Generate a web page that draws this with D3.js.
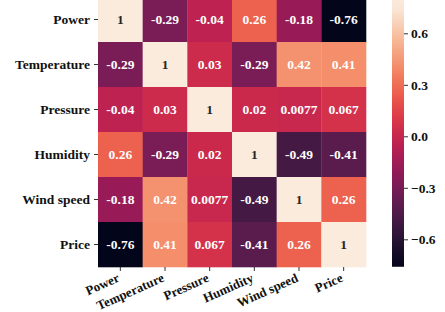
<!DOCTYPE html>
<html>
<head>
<meta charset="utf-8">
<script src="https://cdn.jsdelivr.net/npm/d3@7"></script>
<style>
  body { margin: 0; background: #fff; }
  text { font-family: "Liberation Serif", "Times New Roman", serif; font-weight: bold; }
</style>
</head>
<body>
<div id="svgDiv"></div>
<script>
// variables shown on both axes
var labels = ["Power", "Temperature", "Pressure", "Humidity", "Wind speed", "Price"];

// correlation matrix, one row per variable
var rowPower       = [1, -0.29, -0.04, 0.26, -0.18, -0.76];
var rowTemperature = [-0.29, 1, 0.03, -0.29, 0.42, 0.41];
var rowPressure    = [-0.04, 0.03, 1, 0.02, 0.0077, 0.067];
var rowHumidity    = [0.26, -0.29, 0.02, 1, -0.49, -0.41];
var rowWindSpeed   = [-0.18, 0.42, 0.0077, -0.49, 1, 0.26];
var rowPrice       = [-0.76, 0.41, 0.067, -0.41, 0.26, 1];
var matrix = [rowPower, rowTemperature, rowPressure, rowHumidity, rowWindSpeed, rowPrice];

// colorbar ticks
var barTicks = [0.6, 0.3, 0.0, -0.3, -0.6];

// rocket-like colormap stops
var rocket = ["#03051a", "#35193e", "#701f57", "#ad1759", "#e13342", "#f37651", "#f6b48f", "#faebdd"];

var svgWidth = 445, svgHeight = 312;
var svg = d3.select("#svgDiv")
    .append("svg")
    .attr("width", svgWidth)
    .attr("height", svgHeight);

var xScale = d3.scaleBand().domain(labels).range([98, 366]);
var yScale = d3.scaleBand().domain(labels).range([-3, 267]);

var interp = d3.interpolateRgbBasis(rocket);
var colorScale = d3.scaleLinear().domain([-0.76, 0.76]).range([0, 1]).clamp(true);
function cellColor(v) { return interp(colorScale(v)); }

var annFormat = d3.formatLocale({decimal: ".", thousands: ",", grouping: [3], currency: ["", ""], minus: "-"}).format(".2~g");

function lum(c) {
    var rgb = d3.rgb(c);
    var f = function(x){ x = x / 255; return x <= 0.03928 ? x / 12.92 : Math.pow((x + 0.055) / 1.055, 2.4); };
    return 0.2126 * f(rgb.r) + 0.7152 * f(rgb.g) + 0.0722 * f(rgb.b);
}

var cells = [];
matrix.forEach(function(row, i){
    row.forEach(function(v, j){
        cells.push({row: labels[i], col: labels[j], value: v});
    });
});

var g = svg.append("g");
g.selectAll("rect.cell")
    .data(cells)
    .enter().append("rect")
    .attr("class", "cell")
    .attr("x", d => xScale(d.col))
    .attr("y", d => yScale(d.row))
    .attr("width", xScale.bandwidth() + 0.3)
    .attr("height", yScale.bandwidth() + 0.3)
    .attr("fill", d => cellColor(d.value));

g.selectAll("text.ann")
    .data(cells)
    .enter().append("text")
    .attr("class", "ann")
    .attr("x", d => xScale(d.col) + xScale.bandwidth() / 2)
    .attr("y", d => yScale(d.row) + yScale.bandwidth() / 2)
    .attr("dy", "0.35em")
    .attr("text-anchor", "middle")
    .attr("font-size", 13.5)
    .attr("fill", d => lum(cellColor(d.value)) > 0.408 ? "#262626" : "#ffffff")
    .text(d => annFormat(d.value));

// y axis
var yAxis = svg.append("g")
    .attr("transform", "translate(98,0)")
    .call(d3.axisLeft(yScale).tickSize(4).tickPadding(4));
yAxis.select(".domain").remove();
yAxis.selectAll("line").attr("stroke", "#333");
yAxis.selectAll("text")
    .attr("font-size", 13.5)
    .attr("fill", "#111")
    .style("font-family", "'Liberation Serif', serif")
    .style("font-weight", "bold");

// x axis with rotated labels
var xAxis = svg.append("g")
    .attr("transform", "translate(0,267)")
    .call(d3.axisBottom(xScale).tickSize(4).tickPadding(4));
xAxis.select(".domain").remove();
xAxis.selectAll("line").attr("stroke", "#333");
xAxis.selectAll("text")
    .attr("font-size", 13)
    .attr("fill", "#111")
    .style("font-family", "'Liberation Serif', serif")
    .style("font-weight", "bold")
    .attr("text-anchor", "end")
    .attr("dy", null)
    .attr("y", 0)
    .attr("transform", "translate(0,14) rotate(-24)");

// colorbar
var barX = 392, barW = 12;
var barScale = d3.scaleLinear().domain([-0.6, 0.6]).range([239.3, 33.3]);
var barTop = -3, barBottom = barScale(-0.76);

var defs = svg.append("defs");
var grad = defs.append("linearGradient")
    .attr("id", "barGrad")
    .attr("x1", 0).attr("y1", 1).attr("x2", 0).attr("y2", 0);
var topVal = barScale.invert(barTop);
d3.range(0, 1.0001, 0.05).forEach(function(t){
    var v = -0.76 + t * (topVal + 0.76);
    grad.append("stop")
        .attr("offset", t)
        .attr("stop-color", cellColor(v));
});
svg.append("rect")
    .attr("x", barX)
    .attr("y", barTop)
    .attr("width", barW)
    .attr("height", barBottom - barTop)
    .attr("fill", "url(#barGrad)");

var barAxis = svg.append("g")
    .attr("transform", "translate(" + (barX + barW) + ",0)")
    .call(d3.axisRight(barScale).tickValues(barTicks).tickFormat(d3.format(".1f")).tickSize(4).tickPadding(3));
barAxis.select(".domain").remove();
barAxis.selectAll("line").attr("stroke", "#333");
barAxis.selectAll("text")
    .attr("font-size", 13.5)
    .attr("fill", "#111")
    .style("font-family", "'Liberation Serif', serif")
    .style("font-weight", "bold");
</script>
</body>
</html>
